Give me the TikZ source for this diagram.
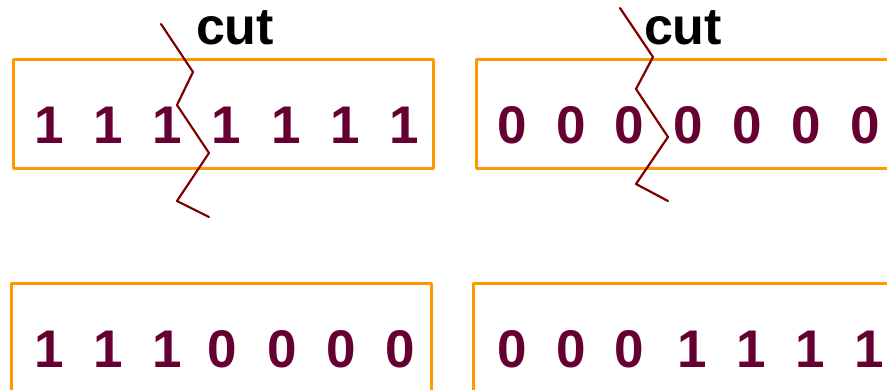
\documentclass[tikz,border=0pt]{standalone}
\usepackage{fontspec}
\setmainfont{Liberation Sans}
\definecolor{bitred}{RGB}{102,0,51}
\definecolor{boxorange}{RGB}{255,153,0}
\definecolor{cutred}{RGB}{128,0,0}

\begin{document}
\begin{tikzpicture}[x=1pt,y=1pt,line cap=round,line join=round,
  bitbox/.style={draw=boxorange,line width=2.6pt,anchor=north west,inner sep=0pt,minimum height=109pt},
  bit/.style={font=\fontsize{53}{53}\selectfont\bfseries,text=bitred,inner sep=0pt},
  cutlabel/.style={font=\fontsize{52}{52}\selectfont\bfseries,anchor=base},
  cutline/.style={draw=cutred,line width=2.2pt}]
\useasboundingbox (0,0) rectangle (887,389);
% the two strings before the cut
\node[bitbox,minimum width=420pt] (ones) at (12,331) {};
\node[bitbox,minimum width=425pt] (zeros) at (475,331) {};
\foreach \b [count=\i from 0] in {1,1,1,1,1,1,1}
  \node[bit,xshift=4pt*\b] (one\i) at (45+59.2*\i,264) {\b};
\foreach \b [count=\i from 0] in {0,0,0,0,0,0,0}
  \node[bit,xshift=4pt*\b] (zero\i) at (512+58.8*\i,264) {\b};
% cut marks
\node[cutlabel] (cutA) at (235,344) {cut};
\node[cutlabel] (cutB) at (683,344) {cut};
\draw[cutline] (161,365) -- (193,317) -- (177,284) -- (209,236) -- (177,188) -- (209,172);
\draw[cutline] (620,381) -- (653,332) -- (636,300) -- (668,252) -- (636,205) -- (668,188);
% the two strings after the swap
\node[bitbox,minimum width=420pt,minimum height=112pt] (left) at (10,107) {};
\node[bitbox,minimum width=425pt,minimum height=112pt] (right) at (472,107) {};
\foreach \b [count=\i from 0] in {1,1,1,0,0,0,0}
  \node[bit,xshift=4pt*\b] (low\i) at (45+59.2*\i,40) {\b};
\foreach \b [count=\i from 0] in {0,0,0,1,1,1,1}
  \node[bit,xshift=4pt*\b] (high\i) at (512+58.8*\i,40) {\b};
\end{tikzpicture}
\end{document}
